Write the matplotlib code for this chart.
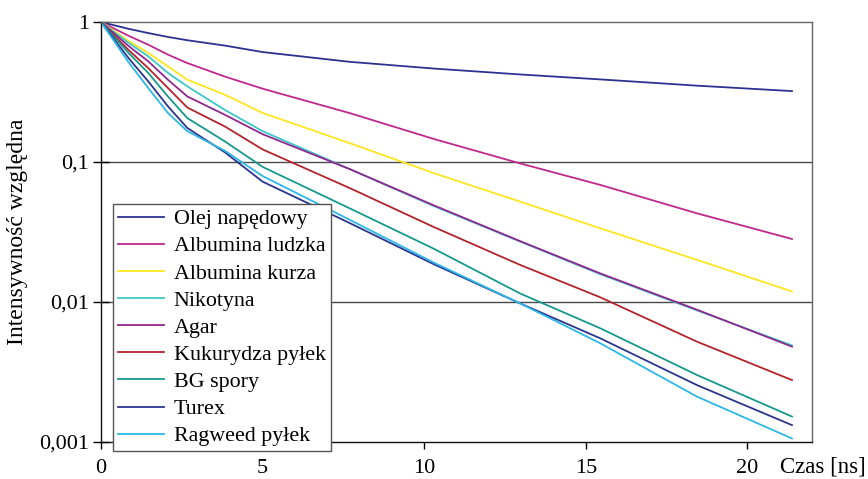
import matplotlib
matplotlib.use("Agg")
import matplotlib.pyplot as plt
from matplotlib.ticker import FixedLocator, NullLocator

plt.rcParams['font.family'] = ['Liberation Serif', 'DejaVu Serif']

# time [ns]
t = [0, 0.84, 1.46, 2.07, 2.67, 3.84, 5.0, 7.71, 10.3, 12.97, 15.45, 18.44, 21.38]

olej = [1.0, 0.895, 0.834, 0.782, 0.741, 0.678, 0.610, 0.519, 0.465, 0.422, 0.389, 0.351, 0.321]
alb_ludzka = [1.0, 0.800, 0.689, 0.585, 0.509, 0.407, 0.334, 0.223, 0.146, 0.0977, 0.0686, 0.0430, 0.0282]
alb_kurza = [1.0, 0.736, 0.601, 0.482, 0.387, 0.302, 0.224, 0.136, 0.0832, 0.0521, 0.0336, 0.0200, 0.0119]
nikotyna = [1.0, 0.713, 0.569, 0.433, 0.347, 0.235, 0.166, 0.0887, 0.0484, 0.0270, 0.0158, 0.00871, 0.00490]
agar = [1.0, 0.678, 0.524, 0.387, 0.294, 0.217, 0.158, 0.0887, 0.0490, 0.0272, 0.0160, 0.00881, 0.00480]
kukurydza = [1.0, 0.635, 0.469, 0.338, 0.245, 0.179, 0.123, 0.0649, 0.0343, 0.0184, 0.0108, 0.00521, 0.00277]
bg_spory = [1.0, 0.605, 0.433, 0.294, 0.206, 0.140, 0.0923, 0.0465, 0.0240, 0.0115, 0.00649, 0.00301, 0.00152]
turex = [1.0, 0.557, 0.377, 0.250, 0.175, 0.117, 0.0724, 0.0365, 0.0186, 0.00977, 0.00550, 0.00255, 0.00132]
ragweed = [1.0, 0.521, 0.338, 0.224, 0.166, 0.120, 0.0794, 0.0385, 0.0191, 0.00977, 0.00507, 0.00211, 0.00106]

labels = ["Olej napędowy", "Albumina ludzka", "Albumina kurza", "Nikotyna", "Agar",
          "Kukurydza pyłek", "BG spory", "Turex", "Ragweed pyłek"]
series = [olej, alb_ludzka, alb_kurza, nikotyna, agar, kukurydza, bg_spory, turex, ragweed]
colors = ["#2e3192", "#c1288c", "#ffe51f", "#3cc8c8", "#92278f",
          "#b3242c", "#15998c", "#2b3590", "#2cb7e8"]

x_ticks = [0, 5, 10, 15, 20]
y_ticks = [0.001, 0.01, 0.1, 1]
y_ticklabels = ["0,001", "0,01", "0,1", "1"]

fig = plt.figure(figsize=(8.68, 4.79), dpi=100)
ax = fig.add_axes([101/868, 1-442/479, (812-101)/868, (442-22)/479])

for y, c, lab in zip(series, colors, labels):
    ax.plot(t, y, color=c, lw=1.3, label=lab, solid_joinstyle='round')

ax.set_yscale('log')
ax.set_ylim(0.001, 1)
ax.set_xlim(0, 22)
ax.yaxis.set_major_locator(FixedLocator(y_ticks))
ax.yaxis.set_minor_locator(NullLocator())
ax.set_yticklabels(y_ticklabels)
ax.set_xticks(x_ticks)
ax.set_xticklabels([str(v) for v in x_ticks])

for yv in [0.1, 0.01]:
    ax.axhline(yv, color='#4a4a4a', lw=1.0, zorder=0.5)

for s in ['top', 'right']:
    ax.spines[s].set_color('#666666')
    ax.spines[s].set_linewidth(1.0)
for s in ['left', 'bottom']:
    ax.spines[s].set_color('#111111')
    ax.spines[s].set_linewidth(1.0)

ax.tick_params(axis='y', direction='inout', length=11, width=1.0, labelsize=16, pad=3)
ax.tick_params(axis='x', direction='out', length=5, width=1.0, labelsize=16, pad=7)

ax.set_ylabel("Intensywność względna", fontsize=17, labelpad=8)
fig.text(780/868, 1-467/479, "Czas [ns]", fontsize=16.5, va='center', ha='left')

leg = ax.legend(loc='upper left', bbox_to_anchor=(113/868, 1-204/479),
                bbox_transform=fig.transFigure, fontsize=15.8, frameon=True,
                fancybox=False, framealpha=1, edgecolor='#555555',
                handlelength=2.1, handletextpad=0.45, labelspacing=0.31,
                borderpad=0.22, borderaxespad=0)
leg.get_frame().set_linewidth(1.0)
for line in leg.get_lines():
    line.set_linewidth(1.3)

fig.savefig("out.png", dpi=100)
